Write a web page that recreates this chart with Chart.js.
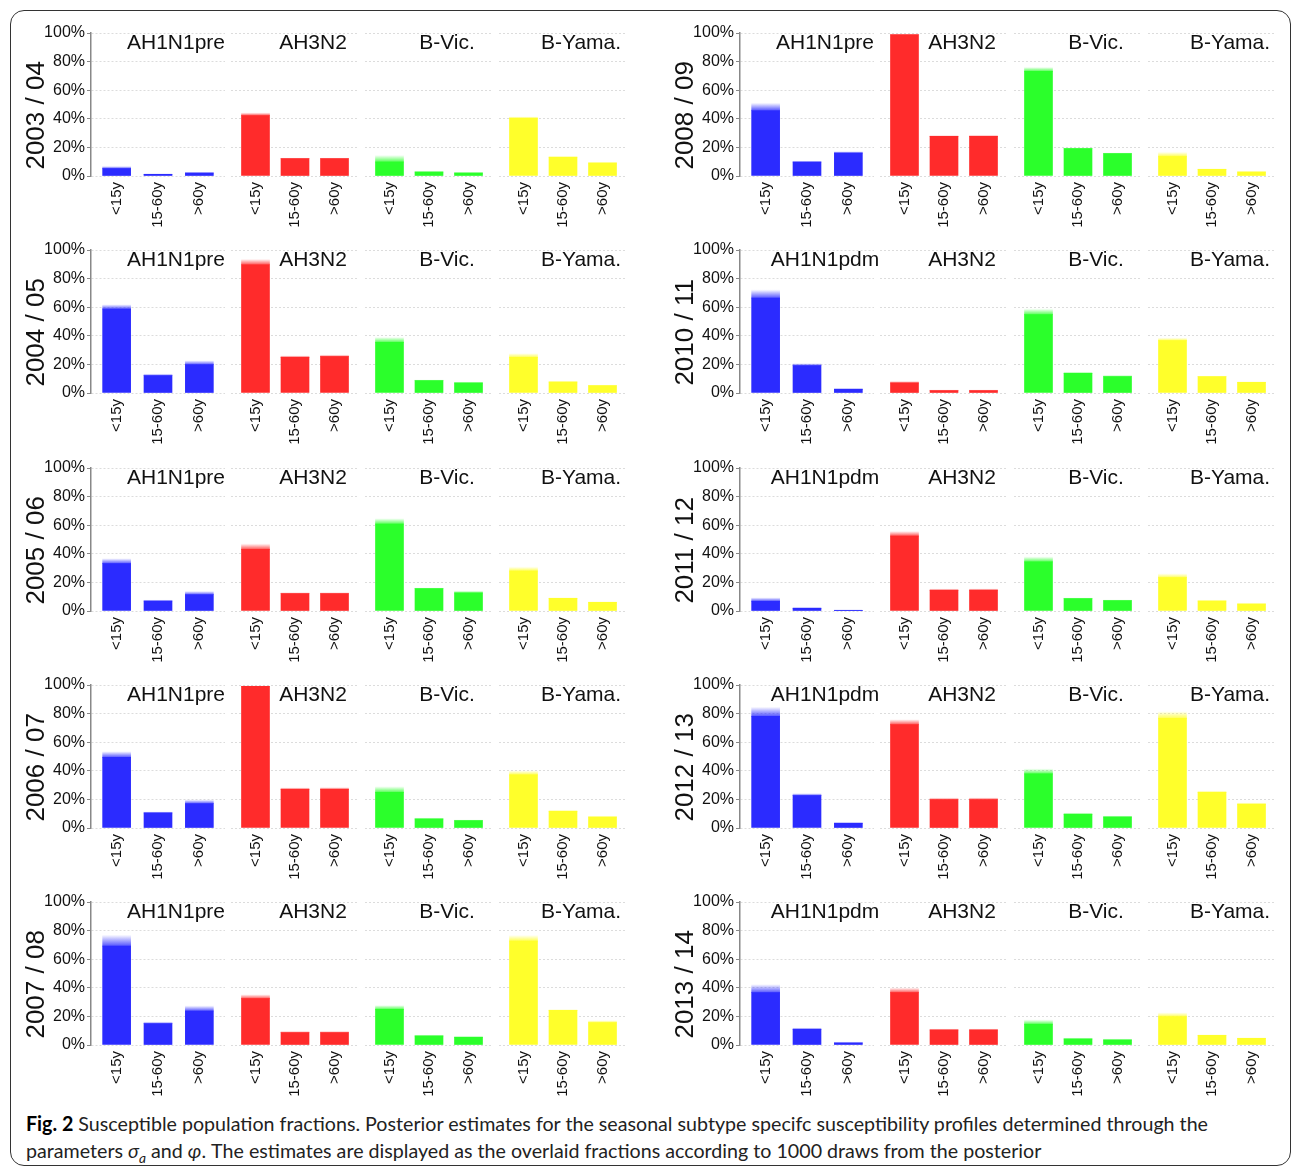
<!DOCTYPE html>
<html>
<head>
<meta charset="utf-8">
<script src="https://cdn.jsdelivr.net/npm/chart.js@4.4.1/dist/chart.umd.min.js"></script>
<style>
  body { margin: 0; background: #fff; width: 1292px; height: 1168px; overflow: hidden; }
  #frame { position: absolute; left: 10px; top: 10px; width: 1281px; height: 1156px;
           border: 1.5px solid #333; border-radius: 14px; box-sizing: border-box; }
  canvas { position: absolute; }
  #caption { position: absolute; left: 26px; top: 1110px; font-family: Lato, "Open Sans", sans-serif;
             font-size: 20px; color: #222; line-height: 27px; white-space: nowrap; }
  #caption b { color: #000; }
  #caption .ln { transform-origin: 0 0; }
</style>
</head>
<body>
<div id="frame"></div>
<div id="charts"></div>
<div id="caption">
  <div class="ln"><b>Fig. 2</b> Susceptible population fractions. Posterior estimates for the seasonal subtype specifc susceptibility profiles determined through the</div>
  <div class="ln">parameters <i>σ<sub style="font-size:14px">a</sub></i> and <i>φ</i>. The estimates are displayed as the overlaid fractions according to 1000 draws from the posterior</div>
</div>
<script>
const ageGroups = ["<15y", "15-60y", ">60y"];
const yTicks = [0, 20, 40, 60, 80, 100];
const namesPre = ["AH1N1pre", "AH3N2", "B-Vic.", "B-Yama."];
const namesPdm = ["AH1N1pdm", "AH3N2", "B-Vic.", "B-Yama."];

// solid part of each bar (%) and top of the faded band of posterior draws (%)
// order: AH1N1 x3, AH3N2 x3, B-Vic x3, B-Yama x3
const est0304 = [5.2, 1.2, 2.1, 42.3, 12.1, 12.1, 9.8, 2.8, 2.1, 40.4, 13.2, 9.1];
const hi0304  = [6.8, 1.6, 2.6, 44.2, 12.6, 12.6, 14.4, 3.3, 2.6, 41.6, 13.7, 9.6];
const est0405 = [58.7, 12.1, 19.8, 89.7, 24.9, 25.4, 35.4, 8.6, 7.0, 24.9, 7.7, 5.1];
const hi0405  = [61.8, 13.3, 22.6, 93.5, 26.1, 26.6, 38.9, 9.3, 7.7, 27.7, 8.2, 5.6];
const est0506 = [33.1, 7.0, 11.4, 43.1, 12.1, 12.1, 60.8, 15.6, 12.6, 28.0, 8.9, 6.1];
const hi0506  = [36.6, 7.5, 13.8, 46.9, 13.0, 13.0, 64.6, 16.3, 14.0, 30.8, 9.4, 6.6];
const est0607 = [49.4, 10.5, 17.0, 99.1, 27.0, 27.0, 24.9, 6.3, 5.1, 37.1, 11.7, 7.7];
const hi0607  = [53.4, 11.4, 19.6, 99.5, 28.2, 28.4, 28.9, 7.0, 5.8, 40.1, 12.4, 8.2];
const est0708 = [69.2, 14.9, 23.8, 32.4, 8.6, 8.6, 24.9, 6.3, 5.4, 72.7, 24.2, 15.6];
const hi0708  = [76.7, 16.1, 27.3, 35.2, 9.6, 9.6, 27.7, 7.0, 6.1, 76.7, 24.9, 17.2];
const est0809 = [45.8, 9.8, 16.0, 98.8, 27.7, 27.7, 73.2, 19.1, 15.6, 13.7, 4.7, 2.8];
const hi0809  = [50.9, 10.3, 17.2, 99.3, 28.4, 28.5, 76.0, 19.8, 16.3, 16.7, 5.2, 3.3];
const est1011 = [66.4, 19.1, 2.6, 7.0, 1.6, 1.6, 54.8, 13.8, 11.4, 36.6, 11.4, 7.5];
const hi1011  = [72.0, 20.7, 3.3, 8.2, 2.3, 2.3, 58.7, 14.5, 12.4, 38.5, 11.9, 8.0];
const est1112 = [6.8, 1.9, 0.5, 52.4, 14.5, 14.5, 34.3, 8.6, 7.2, 23.3, 7.0, 4.9];
const hi1112  = [9.3, 2.6, 0.9, 55.7, 15.4, 15.6, 37.8, 9.3, 7.9, 26.1, 7.5, 5.4];
const est1213 = [78.1, 22.6, 3.3, 72.3, 19.8, 19.8, 37.8, 9.6, 7.7, 76.7, 24.9, 16.6];
const hi1213  = [84.4, 24.2, 4.0, 75.8, 21.0, 21.2, 41.3, 10.5, 8.4, 81.4, 25.9, 17.7];
const est1314 = [36.6, 11.0, 1.4, 36.6, 10.5, 10.5, 14.5, 4.2, 3.5, 19.8, 6.8, 4.7];
const hi1314  = [42.2, 11.9, 2.1, 39.9, 11.2, 11.2, 17.5, 4.9, 4.2, 22.6, 7.2, 5.1];

const panels = [
  { season: "2003 / 04", est: est0304, hi: hi0304, names: namesPre },
  { season: "2004 / 05", est: est0405, hi: hi0405, names: namesPre },
  { season: "2005 / 06", est: est0506, hi: hi0506, names: namesPre },
  { season: "2006 / 07", est: est0607, hi: hi0607, names: namesPre },
  { season: "2007 / 08", est: est0708, hi: hi0708, names: namesPre },
  { season: "2008 / 09", est: est0809, hi: hi0809, names: namesPre },
  { season: "2010 / 11", est: est1011, hi: hi1011, names: namesPdm },
  { season: "2011 / 12", est: est1112, hi: hi1112, names: namesPdm },
  { season: "2012 / 13", est: est1213, hi: hi1213, names: namesPdm },
  { season: "2013 / 14", est: est1314, hi: hi1314, names: namesPdm },
];

const colours = ["43,43,255", "255,43,43", "43,255,43", "255,255,43"];

// layout
const axisX = [91, 740];
const rowTop = [33, 250, 468, 685, 902];
const groupX = [0, 140, 274, 408];
const groupW = [134, 128, 128, 128];
const yAxisW = 81, padTop = 12, padRight = 16, plotH = 143, xAxisH = 60;

Chart.defaults.font.family = '"Liberation Sans", Arial, sans-serif';
Chart.defaults.color = "#111";

const subtypeTitle = {
  id: "subtypeTitle",
  afterDraw(chart, args, opts) {
    const a = chart.chartArea;
    const ctx = chart.ctx;
    ctx.save();
    ctx.font = '21px "Liberation Sans", Arial, sans-serif';
    ctx.fillStyle = "#111";
    ctx.textAlign = "center";
    ctx.textBaseline = "alphabetic";
    ctx.fillText(opts.text, (a.left + a.right) / 2 + 18, a.top + 16);
    ctx.restore();
  },
};

const holder = document.getElementById("charts");

panels.forEach((p, n) => {
  const col = n < 5 ? 0 : 1;
  const row = n % 5;
  for (let g = 0; g < 4; g++) {
    const first = g === 0;
    const cv = document.createElement("canvas");
    cv.width = groupW[g] + (first ? yAxisW : 0) + padRight;
    cv.height = padTop + plotH + xAxisH;
    cv.style.left = (axisX[col] + groupX[g] - (first ? yAxisW : 0)) + "px";
    cv.style.top = (rowTop[row] - padTop) + "px";
    holder.appendChild(cv);

    const k = g * 3;
    const col3 = colours[g];
    const est = p.est.slice(k, k + 3);
    const hi = p.hi.slice(k, k + 3);

    new Chart(cv, {
      type: "bar",
      data: {
        datasets: [
          {
            data: est.map((v, i) => ({ x: i, y: v })),
            backgroundColor: "rgb(" + col3 + ")",
            barThickness: 28,
            borderWidth: 0,
          },
          {
            // faded band from the overlaid posterior draws
            data: hi.map((v, i) => ({ x: i, y: Math.max(0, v - est[i]) })),
            barThickness: 28,
            borderWidth: 0,
            backgroundColor: (c) => {
              const ys = c.chart.scales.y;
              if (c.type !== "data" || !ys || !c.chart.chartArea) return "rgba(" + col3 + ",0.4)";
              const i = c.dataIndex;
              const yb = ys.getPixelForValue(est[i]);
              const yt = ys.getPixelForValue(hi[i]);
              if (!(yb > yt)) return "rgba(" + col3 + ",0.4)";
              const gr = c.chart.ctx.createLinearGradient(0, yb, 0, yt);
              gr.addColorStop(0, "rgba(" + col3 + ",0.8)");
              gr.addColorStop(1, "rgba(" + col3 + ",0.04)");
              return gr;
            },
          },
        ],
      },
      options: {
        responsive: false,
        animation: false,
        layout: { padding: { top: padTop, left: 0, right: padRight, bottom: 0 } },
        plugins: {
          legend: { display: false },
          tooltip: { enabled: false },
          subtypeTitle: { text: p.names[g] },
        },
        scales: {
          x: {
            type: "linear",
            stacked: true,
            offset: false,
            min: -0.62,
            max: 2.62,
            grid: { display: false, drawTicks: false, offset: false },
            border: { display: false },
            afterBuildTicks: (s) => { s.ticks = ageGroups.map((_, i) => ({ value: i })); },
            ticks: {
              callback: (v) => ageGroups[v],
              minRotation: 90,
              maxRotation: 90,
              autoSkip: false,
              padding: 6,
              font: { size: 15 },
              color: "#111",
            },
            afterFit: (s) => { s.height = xAxisH; },
          },
          y: {
            stacked: true,
            min: 0,
            max: 100,
            afterBuildTicks: (s) => { s.ticks = yTicks.map((v) => ({ value: v })); },
            ticks: {
              display: first,
              callback: (v) => v + "%",
              font: { size: 16 },
              color: "#111",
              padding: 2,
            },
            grid: { color: "#dcdcdc", lineWidth: 1, drawTicks: first, tickLength: 4, tickColor: "#888" },
            border: { display: first, color: "#888", width: 1.5, dash: [2, 2] },
            title: {
              display: first,
              // trailing spaces push the rotated label a little below the plot centre, as printed
              text: p.season + "\u00a0\u00a0\u00a0",
              font: { size: 26 },
              color: "#111",
              padding: { top: 11, bottom: 0 },
            },
            afterFit: (s) => { s.width = first ? yAxisW : 0; },
          },
        },
      },
      plugins: [subtypeTitle],
    });
  }
});

// stretch caption lines to the printed width
const lines = document.querySelectorAll("#caption .ln");
const natural = lines[0].getBoundingClientRect().width;
const sx = 1182 / natural;
lines.forEach((l) => { l.style.transform = "scaleX(" + sx + ")"; });
</script>
</body>
</html>
